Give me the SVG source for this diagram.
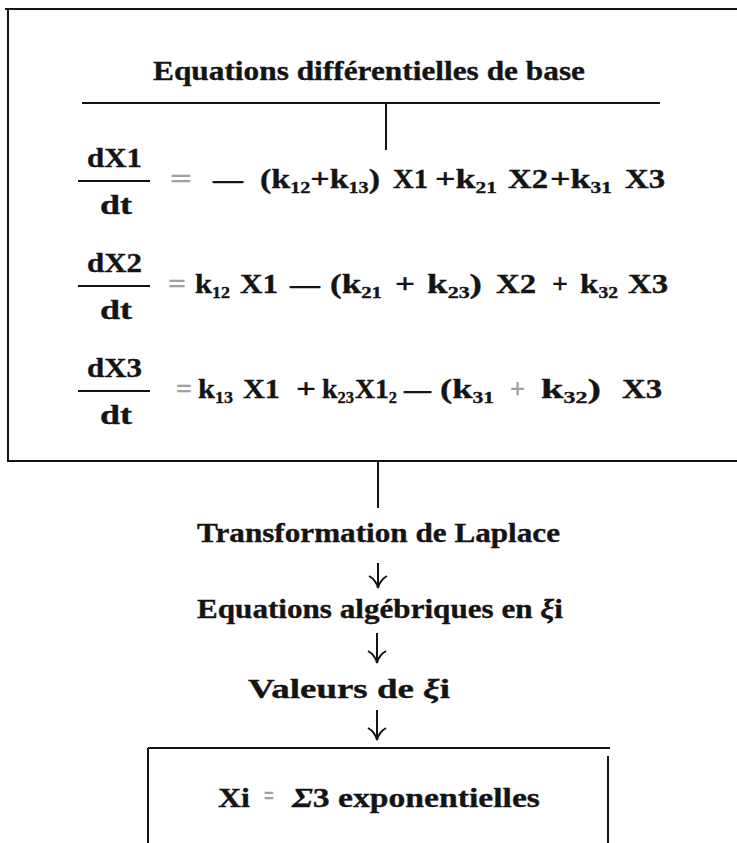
<svg xmlns="http://www.w3.org/2000/svg" width="737" height="843" viewBox="0 0 737 843">
<style>
.t{font-family:"Liberation Serif","Times New Roman",serif;font-weight:bold;font-size:27px;fill:#141414;stroke:#141414;stroke-width:0.35}
.s{font-size:16px}
.g{fill:#a0a0a0;stroke:#a0a0a0}
.ln{stroke:#141414;stroke-width:2;fill:none}
.fr{stroke:#141414;stroke-width:2.2}
</style>
<rect width="737" height="843" fill="#fff"/>

<g id="equations-box">
  <path class="ln" d="M5 9 H737 M8 9 V462 M8 461 H737"/>
  <text class="t" x="153" y="80" textLength="432" lengthAdjust="spacingAndGlyphs">Equations différentielles de base</text>
  <path class="ln" d="M82 103 H660"/>

  <!-- row 1 -->
  <text class="t" x="87" y="167" textLength="55" lengthAdjust="spacingAndGlyphs">dX1</text>
  <line class="fr" x1="78" y1="181" x2="150" y2="181"/>
  <text class="t" x="100" y="214" textLength="32" lengthAdjust="spacingAndGlyphs">dt</text>
  <text class="t g" x="170" y="188" textLength="22" lengthAdjust="spacingAndGlyphs">=</text>
  <text class="t" x="213" y="188" textLength="30" lengthAdjust="spacingAndGlyphs">—</text>
  <text class="t" x="260" y="188" textLength="120" lengthAdjust="spacingAndGlyphs">(k<tspan class="s" dy="5">12</tspan><tspan dy="-5">+k</tspan><tspan class="s" dy="5">13</tspan><tspan dy="-5">)</tspan></text>
  <text class="t" x="393" y="188" textLength="35" lengthAdjust="spacingAndGlyphs">X1</text>
  <text class="t" x="435" y="188" textLength="62" lengthAdjust="spacingAndGlyphs">+k<tspan class="s" dy="5">21</tspan></text>
  <text class="t" x="508" y="188" textLength="40" lengthAdjust="spacingAndGlyphs">X2</text>
  <text class="t" x="550" y="188" textLength="62" lengthAdjust="spacingAndGlyphs">+k<tspan class="s" dy="5">31</tspan></text>
  <text class="t" x="625" y="188" textLength="40" lengthAdjust="spacingAndGlyphs">X3</text>

  <!-- row 2 -->
  <text class="t" x="87" y="272" textLength="55" lengthAdjust="spacingAndGlyphs">dX2</text>
  <line class="fr" x1="78" y1="286" x2="150" y2="286"/>
  <text class="t" x="100" y="319" textLength="32" lengthAdjust="spacingAndGlyphs">dt</text>
  <text class="t g" x="168" y="293" textLength="18" lengthAdjust="spacingAndGlyphs">=</text>
  <text class="t" x="195" y="293" textLength="35" lengthAdjust="spacingAndGlyphs">k<tspan class="s" dy="5">12</tspan></text>
  <text class="t" x="240" y="293" textLength="38" lengthAdjust="spacingAndGlyphs">X1</text>
  <text class="t" x="290" y="293" textLength="30" lengthAdjust="spacingAndGlyphs">—</text>
  <text class="t" x="330" y="293" textLength="52" lengthAdjust="spacingAndGlyphs">(k<tspan class="s" dy="5">21</tspan></text>
  <text class="t" x="395" y="293" textLength="20" lengthAdjust="spacingAndGlyphs">+</text>
  <text class="t" x="427" y="293" textLength="55" lengthAdjust="spacingAndGlyphs">k<tspan class="s" dy="5">23</tspan><tspan dy="-5">)</tspan></text>
  <text class="t" x="496" y="293" textLength="40" lengthAdjust="spacingAndGlyphs">X2</text>
  <text class="t" x="552" y="293" textLength="16" lengthAdjust="spacingAndGlyphs">+</text>
  <text class="t" x="580" y="293" textLength="38" lengthAdjust="spacingAndGlyphs">k<tspan class="s" dy="5">32</tspan></text>
  <text class="t" x="628" y="293" textLength="40" lengthAdjust="spacingAndGlyphs">X3</text>

  <!-- row 3 -->
  <text class="t" x="87" y="377" textLength="55" lengthAdjust="spacingAndGlyphs">dX3</text>
  <line class="fr" x1="78" y1="391" x2="150" y2="391"/>
  <text class="t" x="100" y="424" textLength="32" lengthAdjust="spacingAndGlyphs">dt</text>
  <text class="t g" x="176" y="398" textLength="16" lengthAdjust="spacingAndGlyphs">=</text>
  <text class="t" x="198" y="398" textLength="35" lengthAdjust="spacingAndGlyphs">k<tspan class="s" dy="5">13</tspan></text>
  <text class="t" x="243" y="398" textLength="37" lengthAdjust="spacingAndGlyphs">X1</text>
  <text class="t" x="296" y="398" textLength="20" lengthAdjust="spacingAndGlyphs">+</text>
  <text class="t" x="322" y="398" textLength="32" lengthAdjust="spacingAndGlyphs">k<tspan class="s" dy="5">23</tspan></text>
  <text class="t" x="355" y="398" textLength="42" lengthAdjust="spacingAndGlyphs">X1<tspan class="s" dy="5">2</tspan></text>
  <text class="t" x="404" y="398" textLength="27" lengthAdjust="spacingAndGlyphs">—</text>
  <text class="t" x="440" y="398" textLength="54" lengthAdjust="spacingAndGlyphs">(k<tspan class="s" dy="5">31</tspan></text>
  <text class="t g" x="510" y="398" textLength="15" lengthAdjust="spacingAndGlyphs">+</text>
  <text class="t" x="541" y="398" textLength="60" lengthAdjust="spacingAndGlyphs">k<tspan class="s" dy="5">32</tspan><tspan dy="-5">)</tspan></text>
  <text class="t" x="622" y="398" textLength="40" lengthAdjust="spacingAndGlyphs">X3</text>
</g>

<g id="laplace">
  <text class="t" x="197" y="542" textLength="363" lengthAdjust="spacingAndGlyphs">Transformation de Laplace</text>
</g>
<g id="algebriques">
  <text class="t" x="197" y="618" textLength="366" lengthAdjust="spacingAndGlyphs">Equations algébriques en <tspan font-style="italic">ξ</tspan>i</text>
</g>
<g id="valeurs">
  <text class="t" x="248" y="698" textLength="202" lengthAdjust="spacingAndGlyphs">Valeurs de <tspan font-style="italic">ξ</tspan>i</text>
</g>
<g id="result-box">
  <path class="ln" d="M148 748 H610 M148 748 V843 M608 756 V843"/>
  <text class="t" x="218" y="807" textLength="32" lengthAdjust="spacingAndGlyphs">Xi</text>
  <text class="t g" x="264" y="805" font-size="18" textLength="10" lengthAdjust="spacingAndGlyphs">=</text>
  <text class="t" x="292" y="807" textLength="248" lengthAdjust="spacingAndGlyphs"><tspan font-style="italic">Σ</tspan>3 exponentielles</text>
</g>

<g id="connectors" class="ln">
  <path d="M386 103 V150"/>
  <path d="M378 461 V508"/>
  <path d="M378 563 V587 M369 576 Q376 580 378 588 Q380 580 387 576"/>
  <path d="M377 633 V662 M368 651 Q375 655 377 663 Q379 655 386 651"/>
  <path d="M377 710 V739 M368 728 Q375 732 377 740 Q379 732 386 728"/>
</g>
</svg>
